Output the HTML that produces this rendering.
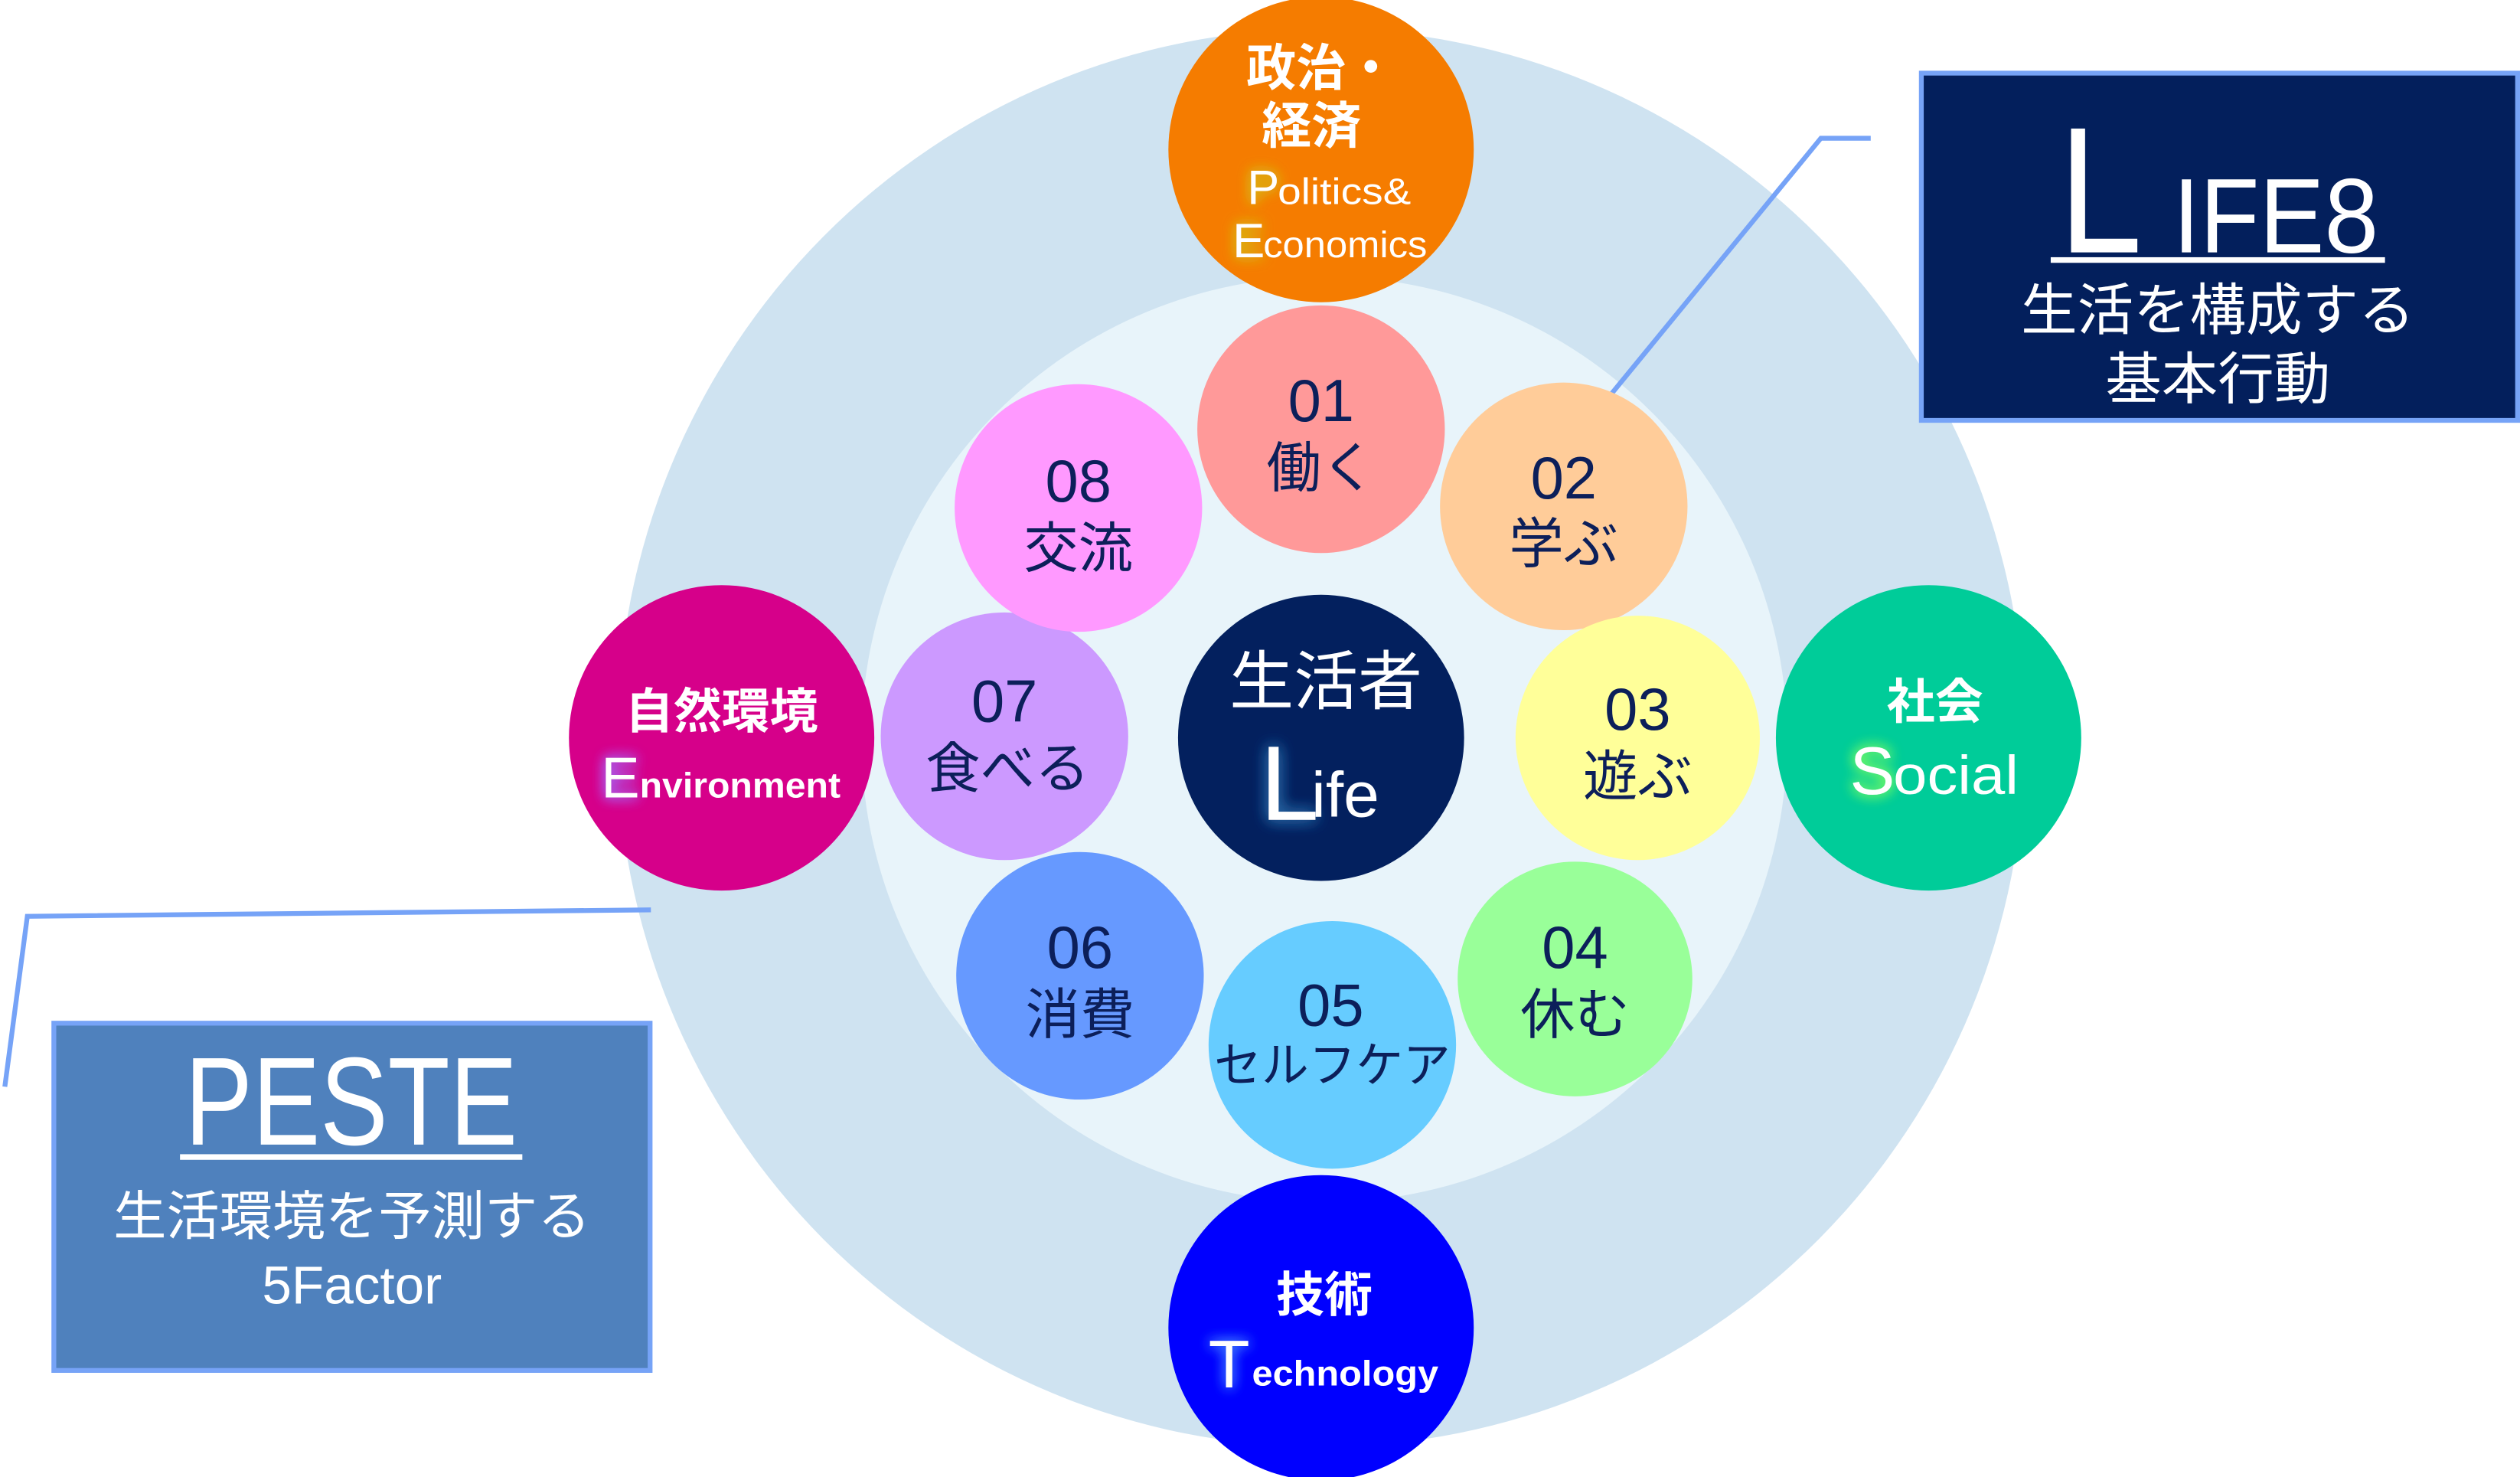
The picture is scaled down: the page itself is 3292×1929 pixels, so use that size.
<!DOCTYPE html>
<html><head><meta charset="utf-8"><style>
html,body{margin:0;padding:0;background:#fff;}
svg{display:block;}
text{font-family:"Liberation Sans","Noto Sans CJK JP",sans-serif;}
</style></head><body>
<svg width="3292" height="1929" viewBox="0 0 1568 918.8" xmlns="http://www.w3.org/2000/svg">
<defs>
<filter id="gy" x="-50%" y="-50%" width="200%" height="200%"><feGaussianBlur in="SourceAlpha" stdDeviation="4" result="b"/><feFlood flood-color="#d4c020"/><feComposite in2="b" operator="in" result="g"/><feMerge><feMergeNode in="g"/><feMergeNode in="g"/><feMergeNode in="SourceGraphic"/></feMerge></filter>
<filter id="gp" x="-50%" y="-50%" width="200%" height="200%"><feGaussianBlur in="SourceAlpha" stdDeviation="4" result="b"/><feFlood flood-color="#a070ff"/><feComposite in2="b" operator="in" result="g"/><feMerge><feMergeNode in="g"/><feMergeNode in="g"/><feMergeNode in="SourceGraphic"/></feMerge></filter>
<filter id="gg" x="-50%" y="-50%" width="200%" height="200%"><feGaussianBlur in="SourceAlpha" stdDeviation="4" result="b"/><feFlood flood-color="#80ff60"/><feComposite in2="b" operator="in" result="g"/><feMerge><feMergeNode in="g"/><feMergeNode in="g"/><feMergeNode in="SourceGraphic"/></feMerge></filter>
<filter id="gb" x="-50%" y="-50%" width="200%" height="200%"><feGaussianBlur in="SourceAlpha" stdDeviation="4" result="b"/><feFlood flood-color="#4080ff"/><feComposite in2="b" operator="in" result="g"/><feMerge><feMergeNode in="g"/><feMergeNode in="g"/><feMergeNode in="SourceGraphic"/></feMerge></filter>
<filter id="gl" x="-50%" y="-50%" width="200%" height="200%"><feGaussianBlur in="SourceAlpha" stdDeviation="5" result="b"/><feFlood flood-color="#2a6aa8"/><feComposite in2="b" operator="in" result="g"/><feMerge><feMergeNode in="g"/><feMergeNode in="g"/><feMergeNode in="SourceGraphic"/></feMerge></filter>
</defs>
<ellipse cx="822" cy="459" rx="438" ry="441" fill="#cfe3f1"/>
<ellipse cx="824" cy="460" rx="288" ry="288" fill="#e8f4fa"/>

<polyline points="1164,86 1133,86 992,258" fill="none" stroke="#76a3f7" stroke-width="3"/>
<polyline points="405,566 17,570 3,676" fill="none" stroke="#76a3f7" stroke-width="3"/>

<circle cx="822" cy="267" r="77" fill="#ff9999"/>
<circle cx="973" cy="315" r="77" fill="#ffcc99"/>
<circle cx="1019" cy="459" r="76" fill="#ffff99"/>
<circle cx="980" cy="609" r="73" fill="#99ff99"/>
<circle cx="829" cy="650" r="77" fill="#66ccff"/>
<circle cx="672" cy="607" r="77" fill="#6699ff"/>
<circle cx="625" cy="458" r="77" fill="#cc99ff"/>
<circle cx="671" cy="316" r="77" fill="#ff99ff"/>
<g fill="#0c1f5a" font-size="37" text-anchor="middle">
<text x="822" y="262">01</text><text x="822" y="303" font-size="34">働く</text>
<text x="973" y="310">02</text><text x="973" y="350" font-size="34">学ぶ</text>
<text x="1019" y="454">03</text><text x="1019" y="495" font-size="34">遊ぶ</text>
<text x="980" y="602">04</text><text x="980" y="643" font-size="34">休む</text>
<text x="828" y="638">05</text><text x="829" y="673" font-size="30" textLength="147" lengthAdjust="spacingAndGlyphs">セルフケア</text>
<text x="672" y="602">06</text><text x="672" y="643" font-size="34">消費</text>
<text x="625" y="449">07</text><text x="627" y="490" font-size="34">食べる</text>
<text x="671" y="312">08</text><text x="671" y="353" font-size="34">交流</text>
</g>

<circle cx="822" cy="459" r="89" fill="#03205e"/>
<text x="825" y="438" fill="#fff" font-size="40" text-anchor="middle">生活者</text>
<text x="784" y="510" fill="#fff" font-size="66" filter="url(#gl)">L</text>
<text x="816" y="508" fill="#fff" font-size="40">ife</text>

<circle cx="822" cy="93" r="95" fill="#f57c00"/>
<g fill="#fff" font-size="31" text-anchor="middle" font-weight="bold">
<text x="822" y="53">政治・</text><text x="816" y="89">経済</text>
</g>
<text x="776" y="127" fill="#fff" font-size="30" filter="url(#gy)">P</text>
<text x="795" y="127" fill="#fff" font-size="23" textLength="83" lengthAdjust="spacingAndGlyphs">olitics&amp;</text>
<text x="767" y="160" fill="#fff" font-size="30" filter="url(#gy)">E</text>
<text x="786" y="160" fill="#fff" font-size="23" textLength="102" lengthAdjust="spacingAndGlyphs">conomics</text>

<circle cx="449" cy="459" r="95" fill="#d6008a"/>
<text x="449" y="453" fill="#fff" font-size="30" text-anchor="middle" font-weight="bold">自然環境</text>
<text x="374" y="496" fill="#fff" font-size="36" filter="url(#gp)">E</text>
<text x="398" y="496" fill="#fff" font-size="22" font-weight="bold" textLength="125" lengthAdjust="spacingAndGlyphs">nvironment</text>

<circle cx="1200" cy="459" r="95" fill="#00cc99"/>
<text x="1204" y="447" fill="#fff" font-size="30" text-anchor="middle" font-weight="bold">社会</text>
<text x="1151" y="494" fill="#fff" font-size="42" filter="url(#gg)">S</text>
<text x="1178" y="494" fill="#fff" font-size="34" textLength="78" lengthAdjust="spacingAndGlyphs">ocial</text>

<circle cx="822" cy="826" r="95" fill="#0000ff"/>
<text x="824" y="816" fill="#fff" font-size="30" text-anchor="middle" font-weight="bold">技術</text>
<text x="752" y="863" fill="#fff" font-size="42" filter="url(#gb)">T</text>
<text x="779" y="862" fill="#fff" font-size="22" font-weight="bold" textLength="116" lengthAdjust="spacingAndGlyphs">echnology</text>

<rect x="1195.5" y="45.5" width="371" height="216" fill="#031f5c" stroke="#76a3f7" stroke-width="3"/>
<text x="1281" y="157" fill="#fff" font-size="112" textLength="52" lengthAdjust="spacingAndGlyphs">L</text>
<text x="1352" y="157" fill="#fff" font-size="66" textLength="128" lengthAdjust="spacingAndGlyphs">IFE8</text>
<rect x="1276" y="160" width="208" height="3.5" fill="#fff"/>
<text x="1380" y="205" fill="#fff" font-size="35" text-anchor="middle">生活を構成する</text>
<text x="1380" y="248" fill="#fff" font-size="35" text-anchor="middle">基本行動</text>

<rect x="33.5" y="636.5" width="371" height="216" fill="#4f81bd" stroke="#76a3f7" stroke-width="3"/>
<text x="115" y="712" fill="#fff" font-size="78" textLength="207" lengthAdjust="spacingAndGlyphs">PESTE</text>
<rect x="112" y="718" width="213" height="3.5" fill="#fff"/>
<text x="219" y="768" fill="#fff" font-size="33" text-anchor="middle">生活環境を予測する</text>
<text x="219" y="811" fill="#fff" font-size="33" text-anchor="middle">5Factor</text>
</svg>
</body></html>
